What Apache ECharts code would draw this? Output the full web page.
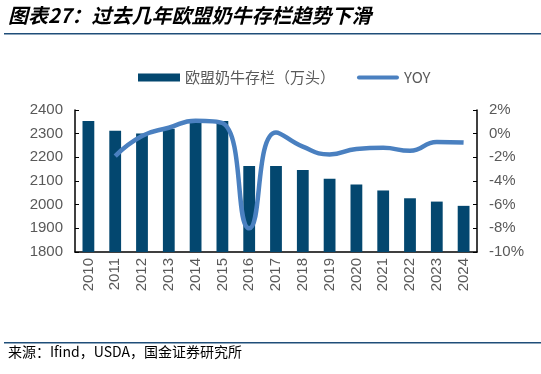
<!DOCTYPE html>
<html>
<head>
<meta charset="utf-8">
<script src="https://cdn.jsdelivr.net/npm/echarts@6/dist/echarts.min.js"></script>
<style>html,body{margin:0;padding:0;background:#fff;}#c{width:541px;height:374px;}</style>
</head>
<body>
<div id="c"></div>
<script>
var years = ['2010','2011','2012','2013','2014','2015','2016','2017','2018','2019','2020','2021','2022','2023','2024'];
var herd = [2353, 2312, 2301, 2321, 2355, 2353, 2163, 2163, 2147, 2110, 2085, 2060, 2027, 2013, 1995];
var yoy = [null, -1.9, -0.2, 0.5, 1.1, 0.9, -8.0, 0.1, -1.1, -1.75, -1.3, -1.2, -1.45, -0.7, -0.75];
var leftTicks = {min: 1800, max: 2400, interval: 100};
var rightTicks = {min: -10, max: 2, interval: 2};

var chart = echarts.init(document.getElementById('c'));
var gray = '#595959';
chart.setOption({
  animation: false,
  textStyle: {fontFamily: 'Liberation Sans, Arial, sans-serif'},
  graphic: [
    {type: 'text', left: 8, top: 5, style: {text: '图表27：过去几年欧盟奶牛存栏趋势下滑', font: 'italic bold 20px "Noto Sans CJK SC"', fill: '#000'}},
    {type: 'rect', shape: {x: 4, y: 33, width: 537, height: 1.5}, style: {fill: '#1F4E79'}},
    {type: 'rect', shape: {x: 4, y: 342, width: 537, height: 1.5}, style: {fill: '#1F4E79'}},
    {type: 'text', left: 8, top: 345, style: {text: '来源：Ifind，USDA，国金证券研究所', font: '14px "Noto Sans CJK SC"', fill: '#000'}}
  ],
  legend: {
    left: 133, top: 65,
    itemGap: 22,
    textStyle: {color: gray, fontSize: 15, fontFamily: 'Noto Sans CJK SC'},
    symbolKeepAspect: true,
    data: [
      {name: '欧盟奶牛存栏（万头）', icon: 'rect', itemStyle: {color: '#03476F'}},
      {name: 'YOY', icon: 'path://M2,0 L42,0 A2,2 0 0 1 42,4 L2,4 A2,2 0 0 1 2,0 Z', itemStyle: {color: '#4A80C0'}}
    ],
    itemWidth: 42, itemHeight: 8
  },
  grid: {left: 75, right: 64, top: 110, bottom: 122},
  xAxis: {
    type: 'category', data: years,
    axisLine: {onZero: false, lineStyle: {color: '#000', width: 1.5}},
    axisTick: {inside: true, length: 4, lineStyle: {color: '#000'}},
    axisLabel: {rotate: 90, color: gray, fontSize: 15, margin: 6}
  },
  yAxis: [
    {type: 'value', min: leftTicks.min, max: leftTicks.max, interval: leftTicks.interval,
     splitLine: {show: false},
     axisLine: {show: true, lineStyle: {color: '#000', width: 1.5}},
     axisTick: {show: true, inside: true, length: 4, lineStyle: {color: '#000'}},
     axisLabel: {color: gray, fontSize: 15, margin: 12, formatter: function (v) { return String(v); }}},
    {type: 'value', min: rightTicks.min, max: rightTicks.max, interval: rightTicks.interval,
     splitLine: {show: false},
     axisLine: {show: true, lineStyle: {color: '#000', width: 1.5}},
     axisTick: {show: true, inside: true, length: 4, lineStyle: {color: '#000'}},
     axisLabel: {color: gray, fontSize: 15, margin: 12, formatter: '{value}%'}}
  ],
  series: [
    {name: '欧盟奶牛存栏（万头）', type: 'bar', data: herd, barWidth: '44%',
     itemStyle: {color: '#03476F'}},
    {name: 'YOY', type: 'line', yAxisIndex: 1, data: yoy, smooth: 0.5, symbol: 'none',
     lineStyle: {color: '#4A80C0', width: 4.5}, itemStyle: {color: '#4A80C0'}}
  ]
});
</script>
</body>
</html>
